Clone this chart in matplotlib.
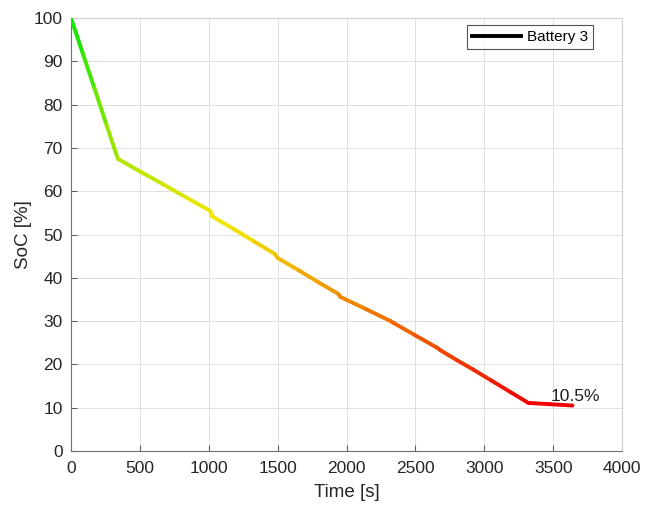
import numpy as np
import matplotlib
matplotlib.use("Agg")
import matplotlib.pyplot as plt
from matplotlib.collections import LineCollection
from matplotlib.lines import Line2D

plt.rcParams['font.family'] = ['Liberation Sans', 'DejaVu Sans']

# SoC trace of battery 3
time_s = [0, 85, 170, 255, 340, 500, 670, 840, 1010, 1025, 1180, 1330, 1480, 1500,
          1650, 1800, 1940, 1955, 2140, 2320, 2340, 2500, 2660, 2680, 2800, 2920,
          3050, 3190, 3320, 3480, 3640]
soc = [100, 91.9, 83.8, 75.6, 67.5, 64.6, 61.6, 58.5, 55.5, 54.2, 51.3, 48.4, 45.5, 44.6,
       41.8, 38.9, 36.3, 35.6, 32.8, 30.0, 29.6, 26.7, 23.8, 23.3, 21.0, 18.8,
       16.3, 13.6, 11.1, 10.8, 10.5]
final_label = "10.5%"
legend_label = "Battery 3"
xticks = [0, 500, 1000, 1500, 2000, 2500, 3000, 3500, 4000]
yticks = [0, 10, 20, 30, 40, 50, 60, 70, 80, 90, 100]

fig = plt.figure(figsize=(6.48, 5.05), dpi=100)
ax = fig.add_axes([0.1096, 0.107, 0.8504, 0.857])

# colour goes from green (full) to red (empty)
t = np.array(time_s)
s = np.array(soc)
pts = np.column_stack([t, s]).reshape(-1, 1, 2)
segs = np.concatenate([pts[:-1], pts[1:]], axis=1)
mid = (s[:-1] + s[1:]) / 2
frac = (mid - s.min()) / (s.max() - s.min())
r = np.clip(2 * (1 - frac), 0, 1) * 0.94
g = np.clip(2.2 * frac, 0, 1) * 0.9
colors = np.column_stack([r, g, np.zeros_like(r)])
lc = LineCollection(segs, colors=colors, linewidth=2.8, capstyle='round', joinstyle='round', zorder=3)
ax.add_collection(lc)

ax.text(time_s[-1] - 160, soc[-1] + 0.3, final_label, fontsize=12.5, color='#202020',
        va='bottom', ha='left')

ax.set_xlim(0, 4000)
ax.set_ylim(0, 100)
ax.set_xticks(xticks)
ax.set_yticks(yticks)
ax.grid(True, color='#e0e0e0', linewidth=0.7)
ax.set_axisbelow(True)
ax.tick_params(direction='in', length=4, color='#606060', labelcolor='#262626', labelsize=12.5,
               top=False, right=False)
ax.tick_params(axis='x', pad=7)
ax.tick_params(axis='y', pad=6)
for sp in ax.spines.values():
    sp.set_color('#d0d0d0')
    sp.set_linewidth(0.8)
ax.spines['left'].set_color('#707070')
ax.spines['bottom'].set_color('#707070')

ax.set_xlabel("Time [s]", fontsize=13.5, color='#262626', labelpad=6)
ax.set_ylabel("SoC [%]", fontsize=13.5, color='#262626', labelpad=1)

handle = Line2D([], [], color='black', linewidth=2.8)
leg = ax.legend([handle], [legend_label], loc='upper right', fontsize=11, frameon=True,
                fancybox=False, edgecolor='#262626', handlelength=3.2,
                bbox_to_anchor=(0.948, 0.985), borderaxespad=0,
                borderpad=0.35, handletextpad=0.4)
leg.get_frame().set_linewidth(0.8)

fig.savefig("out.png", dpi=100)
